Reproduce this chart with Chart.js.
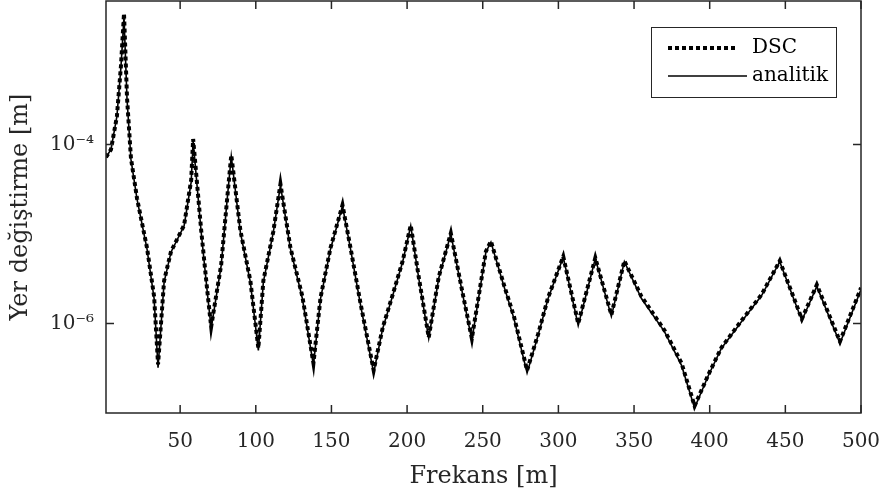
<!DOCTYPE html>
<html>
<head>
<meta charset="utf-8">
<script src="https://cdn.jsdelivr.net/npm/chart.js@4/dist/chart.umd.min.js"></script>
<style>
  html, body { margin: 0; padding: 0; background: #fff; }
  #wrap { width: 882px; height: 497px; }
</style>
</head>
<body>
<div id="wrap"><canvas id="myChart"></canvas></div>
<script>
// Frekans (x) degerleri
const frequency = [1, 4.3, 8.2, 10.9, 12.9, 14.9, 17.5, 21.5, 28.1, 32.8,
    35.4, 39.4, 44, 52.6, 57.3, 58.6, 63.9, 67.9, 70.5, 77.1,
    81.1, 83.8, 89.8, 96.4, 101.7, 105, 111.6, 116.3, 122.9, 130.8,
    138.1, 142.8, 149.4, 157.3, 162.6, 169.3, 177.9, 183.9, 190.5, 197.1,
    202.4, 207.7, 214.3, 220.9, 228.9, 236.9, 242.8, 252.1, 255.4, 264,
    270.6, 279.3, 286.6, 293.2, 303.2, 313.1, 324.4, 335, 343.6, 354.9,
    370.1, 381.4, 390, 399.2, 407.8, 421.1, 434.3, 446.3, 460.9, 470.8,
    486.1, 500];

// analitik cozum
const analitik = [7.2e-5, 8.8e-5, 2.05e-4, 7.4e-4, 2.64e-3, 3.2e-4, 6.8e-5, 2.45e-5, 6.8e-6, 1.9e-6,
    3.2e-7, 2.9e-6, 6.3e-6, 1.23e-5, 3.8e-5, 1.08e-4, 1.05e-5, 2.27e-6, 8.8e-7, 4.4e-6,
    2.45e-5, 7.4e-5, 1.05e-5, 2.9e-6, 5e-7, 2.9e-6, 1.05e-5, 3.5e-5, 6.8e-6, 1.9e-6,
    3.4e-7, 1.9e-6, 6.8e-6, 2.05e-5, 6.8e-6, 1.58e-6, 2.8e-7, 8.8e-7, 2.05e-6, 4.9e-6,
    1.23e-5, 3.2e-6, 6.8e-7, 3.2e-6, 1e-5, 2.05e-6, 6.5e-7, 6.3e-6, 8.1e-6, 2.6e-6,
    1.14e-6, 2.8e-7, 7.4e-7, 1.9e-6, 5.5e-6, 9.5e-7, 5.3e-6, 1.2e-6, 4.9e-6, 1.9e-6,
    8.1e-7, 3.4e-7, 1.14e-7, 2.64e-7, 5.3e-7, 1.05e-6, 2.05e-6, 4.9e-6, 1.08e-6, 2.6e-6,
    6e-7, 2.4e-6];

// DSC sonuclari (tepe noktalarda biraz daha yuksek)
const dsc = [7.2e-5, 8.8e-5, 2.05e-4, 7.6e-4, 2.9e-3, 3.3e-4, 7e-5, 2.5e-5, 7e-6, 2e-6,
    3.5e-7, 3e-6, 6.4e-6, 1.25e-5, 4e-5, 1.15e-4, 1.1e-5, 2.35e-6, 9.2e-7, 4.5e-6,
    2.5e-5, 7.6e-5, 1.1e-5, 3e-6, 5.3e-7, 3e-6, 1.07e-5, 3.6e-5, 7e-6, 2e-6,
    3.6e-7, 1.95e-6, 7e-6, 2.1e-5, 7e-6, 1.65e-6, 3e-7, 9e-7, 2.1e-6, 5e-6,
    1.25e-5, 3.3e-6, 7e-7, 3.3e-6, 1.02e-5, 2.1e-6, 6.8e-7, 6.4e-6, 8.3e-6, 2.7e-6,
    1.2e-6, 3e-7, 7.6e-7, 1.95e-6, 5.6e-6, 1e-6, 5.4e-6, 1.25e-6, 5e-6, 2e-6,
    8.4e-7, 3.6e-7, 1.2e-7, 2.7e-7, 5.4e-7, 1.08e-6, 2.1e-6, 5e-6, 1.12e-6, 2.7e-6,
    6.3e-7, 2.5e-6];

const xTicks = [50, 100, 150, 200, 250, 300, 350, 400, 450, 500];
const yTicks = [1e-6, 1e-4];
const yTickLabels = ['10\u207B\u2076', '10\u207B\u2074'];

const textColor = '#262626';
const fontFamily = '"DejaVu Serif", "Liberation Serif", serif';

// kutu, ice bakan tick cizgileri ve lejant
const boxPlugin = {
    id: 'boxPlugin',
    afterDraw(chart) {
        const ctx = chart.ctx;
        const a = chart.chartArea;
        const xs = chart.scales.x;
        const ys = chart.scales.y;
        ctx.save();
        ctx.strokeStyle = textColor;
        ctx.lineWidth = 1.5;
        ctx.strokeRect(a.left, a.top, a.right - a.left, a.bottom - a.top);
        ctx.beginPath();
        xTicks.forEach(v => {
            const px = xs.getPixelForValue(v);
            ctx.moveTo(px, a.bottom); ctx.lineTo(px, a.bottom - 8);
            ctx.moveTo(px, a.top); ctx.lineTo(px, a.top + 8);
        });
        yTicks.forEach(v => {
            const py = ys.getPixelForValue(v);
            ctx.moveTo(a.left, py); ctx.lineTo(a.left + 8, py);
            ctx.moveTo(a.right, py); ctx.lineTo(a.right - 8, py);
        });
        ctx.stroke();

        // lejant
        const bx = a.right - 210, by = a.top + 26, bw = 185, bh = 70;
        ctx.fillStyle = '#fff';
        ctx.fillRect(bx, by, bw, bh);
        ctx.lineWidth = 1;
        ctx.strokeStyle = textColor;
        ctx.strokeRect(bx + 0.5, by + 0.5, bw, bh);
        chart.data.datasets.forEach((ds, i) => {
            const ly = by + 21 + i * 28;
            ctx.beginPath();
            ctx.strokeStyle = ds.borderColor;
            ctx.lineWidth = ds.borderWidth;
            ctx.setLineDash(ds.borderDash || []);
            ctx.moveTo(bx + 17, ly);
            ctx.lineTo(bx + (ds.borderDash ? 85 : 96), ly);
            ctx.stroke();
            ctx.setLineDash([]);
            ctx.fillStyle = '#000';
            ctx.font = '20px ' + fontFamily;
            ctx.textBaseline = 'middle';
            ctx.fillText(ds.label, bx + 101, ly);
        });
        ctx.restore();
    }
};

function drawChart() {
    const ctx = document.getElementById('myChart').getContext('2d');

    const config = {
        type: 'line',
        data: {
            labels: frequency,
            datasets: [{
                label: 'DSC',
                data: frequency.map((f, i) => ({ x: f, y: dsc[i] })),
                borderColor: '#000',
                borderWidth: 4,
                borderDash: [4, 3],
                pointRadius: 0,
                tension: 0
            }, {
                label: 'analitik',
                data: frequency.map((f, i) => ({ x: f, y: analitik[i] })),
                borderColor: '#000',
                borderWidth: 1.6,
                pointRadius: 0,
                tension: 0
            }]
        },
        options: {
            responsive: true,
            maintainAspectRatio: false,
            animation: false,
            layout: { padding: { top: 1, right: 21, left: 0, bottom: 0 } },
            scales: {
                x: {
                    type: 'linear',
                    min: 1,
                    max: 500,
                    grid: { display: false, drawTicks: false },
                    border: { display: false },
                    afterBuildTicks: s => { s.ticks = xTicks.map(v => ({ value: v })); },
                    afterFit: s => { s.height = 84; s.paddingLeft = 0; s.paddingRight = 0; },
                    ticks: {
                        color: textColor,
                        padding: 17,
                        maxRotation: 0,
                        font: { family: fontFamily, size: 20 }
                    },
                    title: {
                        display: true,
                        text: 'Frekans [m]',
                        color: textColor,
                        padding: { top: 0, bottom: 6 },
                        font: { family: fontFamily, size: 24 }
                    }
                },
                y: {
                    type: 'logarithmic',
                    min: 1e-7,
                    max: 4e-3,
                    grid: { display: false, drawTicks: false },
                    border: { display: false },
                    afterBuildTicks: s => { s.ticks = yTicks.map(v => ({ value: v })); },
                    afterFit: s => { s.width = 106; s.paddingTop = 0; s.paddingBottom = 0; },
                    ticks: {
                        color: textColor,
                        padding: 12,
                        font: { family: fontFamily, size: 20 },
                        callback: v => {
                            const i = yTicks.indexOf(v);
                            return i >= 0 ? yTickLabels[i] : '';
                        }
                    },
                    title: {
                        display: true,
                        text: 'Yer de\u011Fi\u015Ftirme [m]',
                        color: textColor,
                        padding: { top: 6, bottom: 0 },
                        font: { family: fontFamily, size: 24 }
                    }
                }
            },
            plugins: {
                legend: { display: false },
                tooltip: { enabled: false }
            }
        },
        plugins: [boxPlugin]
    };

    new Chart(ctx, config);
}

drawChart();
</script>
</body>
</html>
